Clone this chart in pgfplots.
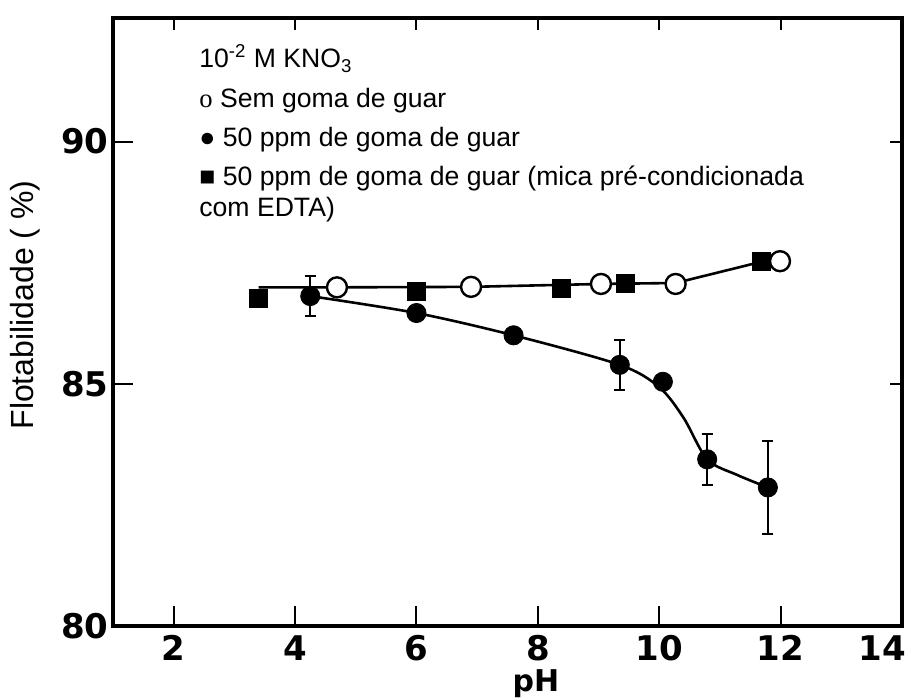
\documentclass[border=0pt]{standalone}
\usepackage{fontspec}
\setmainfont{Liberation Sans}
\newfontfamily\tickfont{DejaVu Sans}
\newfontfamily\oserif{Liberation Serif}
\usepackage{pgfplots}
\pgfplotsset{compat=1.18}

\begin{document}
\begin{tikzpicture}
\path[use as bounding box] (-56.5pt,-36.5pt) rectangle (397pt,313pt);
\begin{axis}[
  scale only axis, width=394.5pt, height=304pt,
  xmin=1, xmax=14, ymin=80, ymax=92.55,
  xtick={2,4,...,14}, ytick={80,85,90},
  xticklabels={2,4,6,8,10,12,{}},
  xtick pos=left, ytick pos=left, tick align=inside,
  major tick length=10pt,
  tick style={black, line width=1pt},
  axis line style={line width=2pt},
  /pgf/number format/assume math mode=true,
  ticklabel style={font=\tickfont\bfseries\fontsize{17}{17}\selectfont, inner sep=2pt},
  xticklabel style={yshift=-2.5pt},
  xlabel={pH}, ylabel={Flotabilidade ( \%)},
  xlabel style={font=\tickfont\bfseries\fontsize{15}{15}\selectfont,
    at={(axis description cs:0.536,-0.095)}, anchor=center},
  ylabel style={font=\fontsize{16}{16}\selectfont,
    at={(axis description cs:-0.1115,0.528)}, anchor=center},
  clip=false,
]
% linha superior (sem goma / mica com EDTA)
\addplot[black, line width=1.3pt] coordinates
  {(3.4,86.99) (4.69,86.99) (6.9,87.0) (9.04,87.06) (10.27,87.08) (11.69,87.52) (11.99,87.53)};
% curva 50 ppm goma de guar
\addplot[black, line width=1.3pt, smooth, tension=0.5] coordinates
  {(4.3,86.8) (6.0,86.46) (7.6,86.0) (9.35,85.39) (10.0,84.93) (10.4,84.3) (10.79,83.44) (11.28,83.12) (11.79,82.86)};
% 50 ppm, mica pre-condicionada com EDTA
\addplot[only marks, mark=square*, mark size=4.5pt, black] coordinates
  {(3.39,86.77) (6.0,86.9) (8.38,86.97) (9.45,87.07) (11.69,87.53)};
% 50 ppm goma de guar
\addplot[only marks, mark=*, mark size=4.8pt, black,
  error bars/.cd, y dir=both, y explicit,
  error bar style={line width=1pt},
  error mark options={rotate=90, mark size=2.8pt, line width=1pt}]
  coordinates {
  (4.25,86.81) +- (0,0.42)
  (6.0,86.46) +- (0,0)
  (7.6,86.0) +- (0,0)
  (9.35,85.39) +- (0,0.52)
  (10.06,85.04) +- (0,0)
  (10.79,83.44) +- (0,0.52)
  (11.79,82.86) +- (0,0.96)};
% sem goma
\addplot[only marks, mark=*, mark size=5pt, mark options={fill=white, draw=black, line width=1.2pt}]
  coordinates {(4.69,86.99) (6.9,87.0) (9.04,87.06) (10.27,87.06) (11.99,87.53)};

% rotulo 14 (deslocado para caber)
\node[anchor=north, inner sep=2pt, yshift=-2.5pt, xshift=-10pt,
  font=\tickfont\bfseries\fontsize{17}{17}\selectfont] at (axis cs:14,80) {14};

\begin{scope}[every node/.style={anchor=base west, inner sep=0pt, font=\fontsize{13.3}{13.3}\selectfont}]
\node at (axis description cs:0.109,0.918) {10\textsuperscript{-2} M KNO\textsubscript{3}};
\node at (axis description cs:0.109,0.852) {{\oserif o} Sem goma de guar};
\node at (axis description cs:0.109,0.788) {● 50 ppm de goma de guar};
\node at (axis description cs:0.109,0.725) {■ 50 ppm de goma de guar (mica pré-condicionada};
\node at (axis description cs:0.109,0.674) {com EDTA)};
\end{scope}
\end{axis}
\begin{axis}[
  scale only axis, width=394.5pt, height=304pt,
  xmin=1, xmax=14, ymin=80, ymax=92.55,
  xtick={2,4,...,12}, ytick={85,90},
  xtick pos=right, ytick pos=right, tick align=inside,
  xticklabels={}, yticklabels={},
  major tick length=6pt,
  tick style={black, line width=1pt},
  axis line style={draw=none},
]
\end{axis}
\end{tikzpicture}
\end{document}
